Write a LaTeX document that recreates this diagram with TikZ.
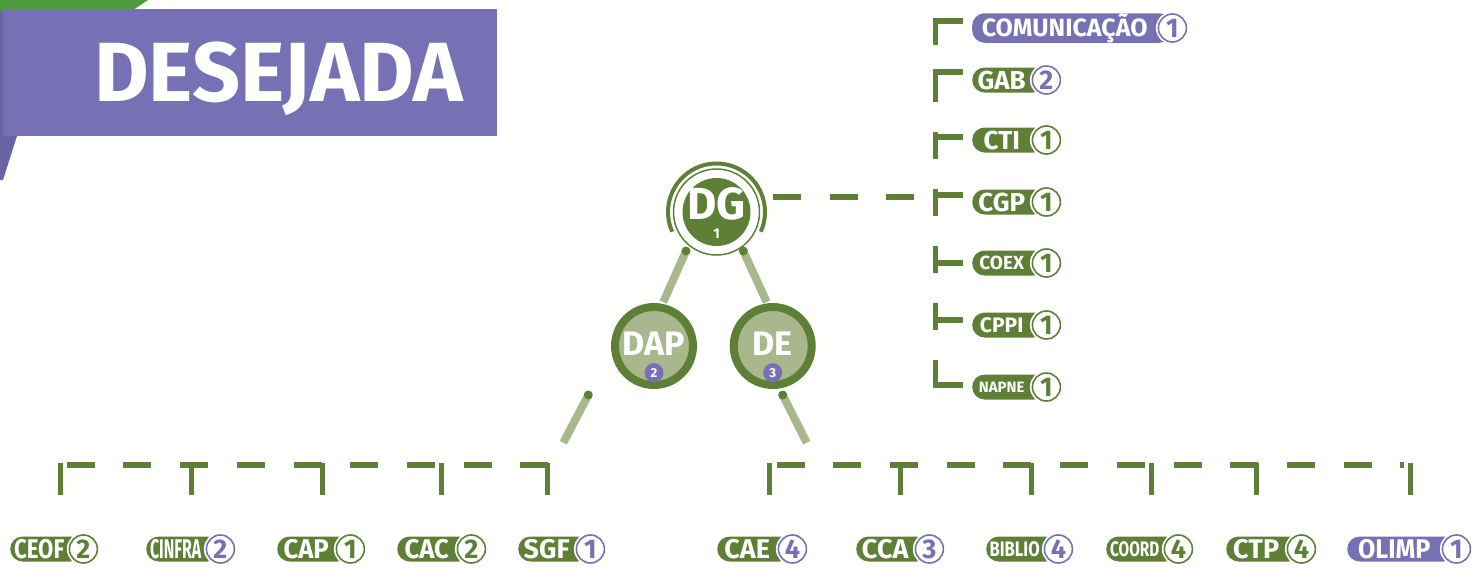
\documentclass[tikz,border=0pt]{standalone}
\usepackage{fontspec}
\setmainfont{Fira Sans}
\usepackage{graphicx}
\usetikzlibrary{calc}

\definecolor{oliva}{HTML}{5E8036}
\definecolor{salvia}{HTML}{A9B78D}
\definecolor{lilas}{HTML}{7671B4}
\definecolor{folha}{HTML}{4F9A3C}
\definecolor{sombra}{HTML}{6A63A6}

\newcommand{\sz}[1]{\bfseries\fontsize{#1}{#1}\selectfont}

\tikzset{
  pill/.style={fill=#1, rounded corners=12.5pt, minimum height=25pt, minimum width=74pt,
    inner xsep=2pt, inner ysep=0pt, anchor=west, text=white, font=\sz{26},
    execute at end node={\hspace{15pt}}},
  count/.style={circle, fill=white, draw=#1, line width=1.6pt, minimum size=28pt,
    inner sep=0pt, text=#1, font=\sz{27}, preaction={draw=white, line width=5pt}},
  bus/.style={draw=oliva, line width=5.5pt, dash pattern=on 28pt off 28.7pt},
  tick/.style={draw=oliva, line width=5pt},
  link/.style={draw=salvia, line width=8pt},
  dot/.style={circle, fill=oliva, inner sep=0pt, minimum size=9pt},
  unit/.style={circle, draw=oliva, line width=8pt, fill=salvia, minimum size=78pt, inner sep=0pt},
  badge/.style={circle, fill=lilas, text=white, minimum size=19pt, inner sep=0pt, font=\sz{13}}
}

\begin{document}
\begin{tikzpicture}[x=1pt, y=-1pt]
\useasboundingbox (0,0) rectangle (1475,568);

% folha no canto
\fill[folha] (0,0) -- (148,0) -- (130,12) -- (0,12) -- cycle;
\fill[sombra] (0,12) -- (130,12) -- (17,136) -- (3,180) -- (0,180) -- cycle;

% faixa do titulo
\fill[lilas] (3,9) rectangle (497,136);
\node[anchor=base, text=white, font=\sz{84}] (titulo) at (278.5,101) {DESEJADA};

% direcao geral
\node[circle, fill=oliva, minimum size=68pt, inner sep=0pt] (dg) at (716.5,212) {};
\node[text=white, inner sep=0pt, font=\sz{45}] (dg txt) at (716.5,203.5) {DG};
\node[text=white, inner sep=0pt, font=\sz{14}] (dg n) at (716.5,234) {1};
\draw[oliva, line width=1.5pt] (dg) circle (43);
\draw[oliva, line width=4pt] ($(dg)+(24:48.5)$) arc[start angle=24, end angle=-204, radius=48.5];

% diretorias
\node[unit] (dap) at (654,346) {};
\node[text=white, inner sep=0pt, font=\sz{34}] (dap txt) at (654,343.3) {DAP};
\node[badge] (dap n) at (654,372.7) {2};
\node[unit] (de) at (772.7,346) {};
\node[text=white, inner sep=0pt, font=\sz{34}] (de txt) at (772.7,343.3) {DE};
\node[badge] (de n) at (772.7,372.7) {3};

% ligacoes
\coordinate (dg a) at (686,251);
\coordinate (dap a) at (663.3,302);
\coordinate (dg b) at (743.3,251);
\coordinate (de b) at (766.7,302);
\coordinate (dap c) at (588.3,395);
\coordinate (bus c) at (563.3,442.7);
\coordinate (de d) at (782.7,395);
\coordinate (bus d) at (806.7,442.7);
\draw[link] (dg a) -- (dap a);
\draw[link] (dg b) -- (de b);
\draw[link] (dap c) -- (bus c);
\draw[link] (de d) -- (bus d);
\node[dot] (p1) at (dg a) {};
\node[dot] (p2) at (dg b) {};
\node[dot] (p3) at (dap c) {};
\node[dot] (p4) at (de d) {};

% coluna da direita
\draw[bus] (773,197) -- (934,197);
\draw[tick, dash pattern=on 27pt off 30pt] (935,18) -- (935,387);
\draw[tick, line width=6pt] (932.5,21) -- (963,21);
\draw[tick, line width=6pt] (932.5,72) -- (963,72);
\draw[tick, line width=6pt] (932.5,137) -- (963,137);
\draw[tick, line width=6pt] (932.5,195) -- (963,195);
\draw[tick, line width=6pt] (932.5,263) -- (963,263);
\draw[tick, line width=6pt] (932.5,320) -- (963,320);
\draw[tick, line width=6pt] (932.5,385) -- (963,385);

\node[pill=lilas, minimum width=200pt, font=\sz{25}] (comu) at (972,28) {COMUNICAÇÃO};
\node[count=lilas] (comu n) at (comu.east) {1};
\node[pill=oliva] (gab) at (972,80) {GAB};
\node[count=lilas] (gab n) at (gab.east) {2};
\node[pill=oliva] (cti) at (972,140) {CTI};
\node[count=oliva] (cti n) at (cti.east) {1};
\node[pill=oliva] (cgp) at (972,202) {CGP};
\node[count=oliva] (cgp n) at (cgp.east) {1};
\node[pill=oliva, font=\sz{19}] (coex) at (972,263) {COEX};
\node[count=oliva] (coex n) at (coex.east) {1};
\node[pill=oliva, font=\sz{21}] (cppi) at (972,325) {CPPI};
\node[count=oliva] (cppi n) at (cppi.east) {1};
\node[pill=oliva, font=\sz{15}] (napne) at (972,387) {NAPNE};
\node[count=oliva] (napne n) at (napne.east) {1};

% barramento da DAP
\draw[bus] (66.7,465) -- (549,465);
\draw[tick] (60,463) -- (60,495);
\draw[tick] (191.7,463) -- (191.7,495);
\draw[tick] (322,463) -- (322,495);
\draw[tick] (441,463) -- (441,495);
\draw[tick] (547.6,463) -- (547.6,495);

% barramento da DE
\draw[bus] (776.6,465) -- (1404,465);
\draw[tick] (769,463) -- (769,495);
\draw[tick] (900,463) -- (900,495);
\draw[tick] (1031,463) -- (1031,495);
\draw[tick] (1151,463) -- (1151,495);
\draw[tick] (1256,463) -- (1256,495);
\draw[tick] (1410,463) -- (1410,495);

% coordenacoes
\node[pill=oliva, minimum width=73pt, font=\sz{27}] (ceof) at (10,549) {\scalebox{0.82}[1]{CEOF}};
\node[count=oliva] (ceof n) at (ceof.east) {2};
\node[pill=oliva, font=\sz{27}] (cinfra) at (146,549) {\scalebox{0.59}[1]{CINFRA}};
\node[count=lilas] (cinfra n) at (cinfra.east) {2};
\node[pill=oliva, minimum width=73pt, font=\sz{27}] (cap) at (277,549) {\scalebox{0.95}[1]{CAP}};
\node[count=oliva] (cap n) at (cap.east) {1};
\node[pill=oliva, font=\sz{27}] (cac) at (397,549) {\scalebox{0.95}[1]{CAC}};
\node[count=oliva] (cac n) at (cac.east) {2};
\node[pill=oliva, minimum width=72pt, font=\sz{27}] (sgf) at (518,549) {SGF};
\node[count=lilas] (sgf n) at (sgf.east) {1};

\node[pill=oliva, minimum width=75pt, font=\sz{27}] (cae) at (717,549) {CAE};
\node[count=lilas] (cae n) at (cae.east) {4};
\node[pill=oliva, minimum width=73pt, font=\sz{27}] (cca) at (856,549) {CCA};
\node[count=lilas] (cca n) at (cca.east) {3};
\node[pill=oliva, minimum width=72pt, font=\sz{21}] (biblio) at (986,549) {\scalebox{0.79}[1]{BIBLIO}};
\node[count=lilas] (biblio n) at (biblio.east) {4};
\node[pill=oliva, minimum width=72pt, font=\sz{21}] (coord) at (1106,549) {\scalebox{0.73}[1]{COORD}};
\node[count=oliva] (coord n) at (coord.east) {4};
\node[pill=oliva, minimum width=75pt, font=\sz{27}] (ctp) at (1226,549) {CTP};
\node[count=oliva] (ctp n) at (ctp.east) {4};
\node[pill=lilas, minimum width=109pt, font=\sz{27}] (olimp) at (1347,549) {\scalebox{0.93}[1]{OLIMP}};
\node[count=lilas] (olimp n) at (olimp.east) {1};
\end{tikzpicture}
\end{document}
